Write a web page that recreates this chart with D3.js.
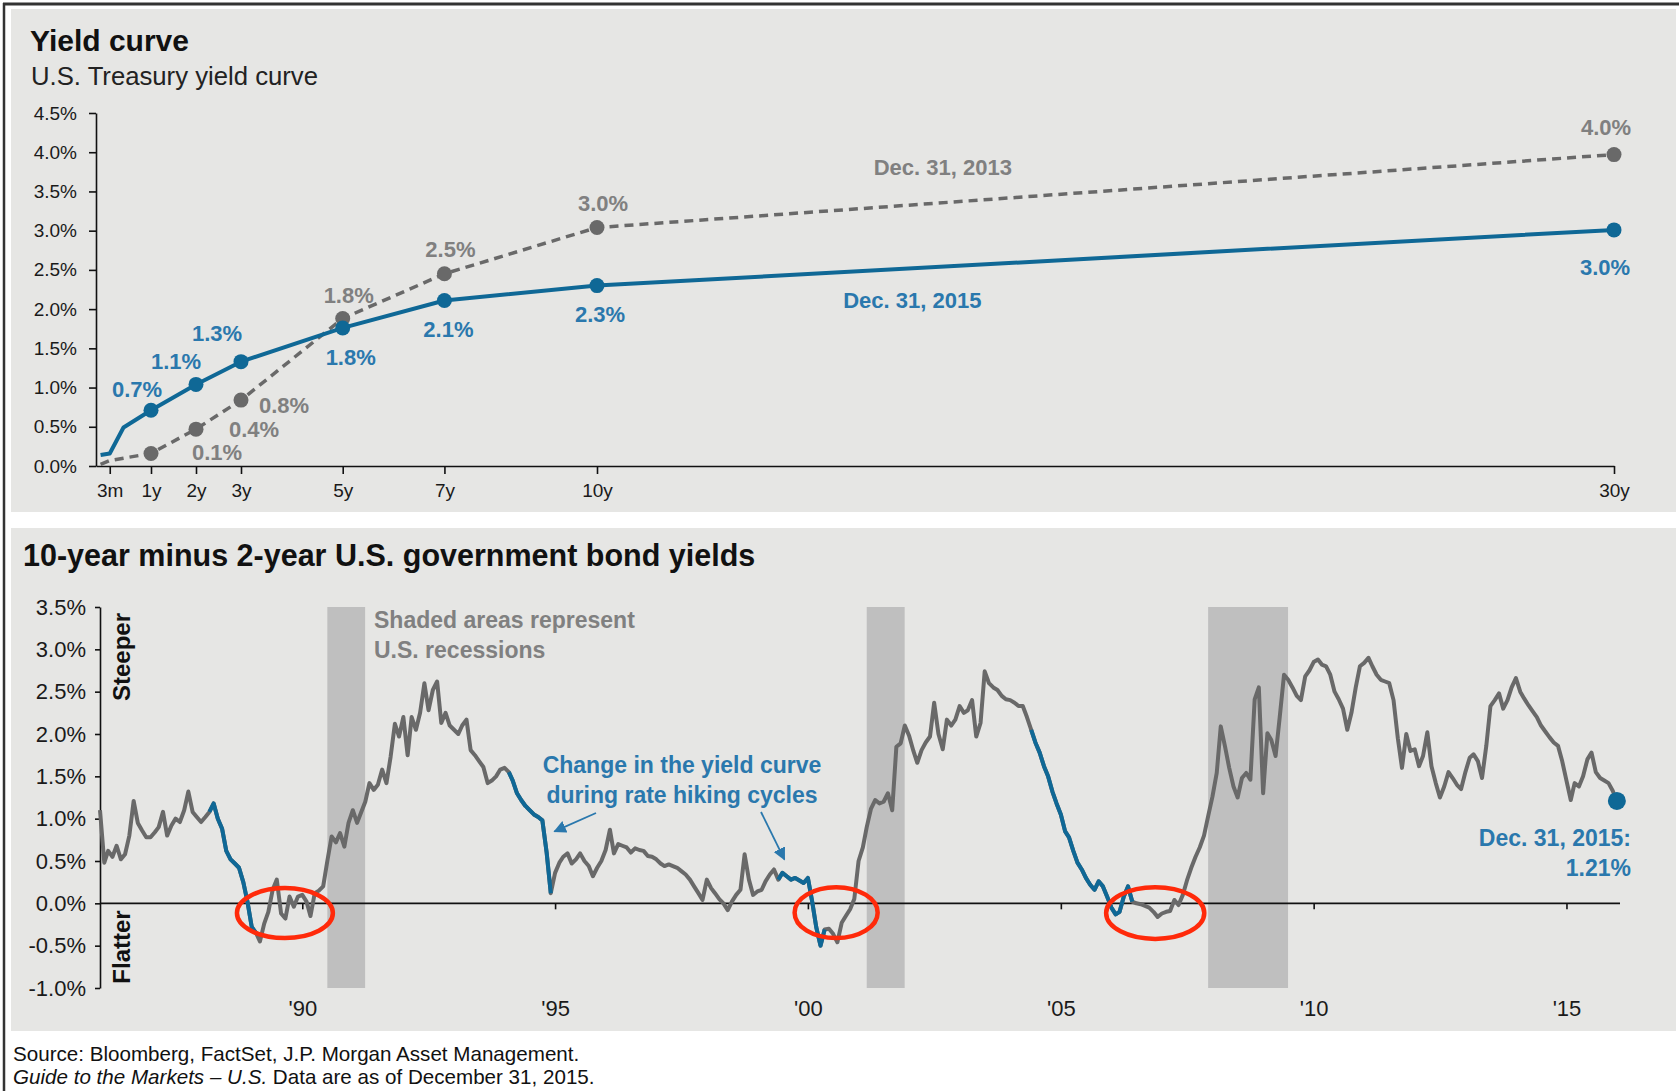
<!DOCTYPE html>
<html lang="en">
<head>
  <meta charset="UTF-8">
  <title>Yield curve</title>
  <script src="https://d3js.org/d3.v7.min.js"></script>
  <style>
    body { margin: 0; background: #fff; }
    svg { display: block; font-family: "Liberation Sans", Arial, sans-serif; }
  </style>
</head>
<body>
  <script>
    // ---------- Top chart: U.S. Treasury yield curve ----------
    const tenors = [1 / 12, 0.25, 0.5, 1, 2, 3, 5, 7, 10, 30];
    const curve2015 = [0.14, 0.16, 0.49, 0.71, 1.04, 1.33, 1.76, 2.11, 2.30, 3.01];
    const curve2013 = [0.02, 0.07, 0.10, 0.16, 0.47, 0.84, 1.88, 2.45, 3.04, 3.97];
    const markerTenors = [1, 2, 3, 5, 7, 10, 30];
    const labels2015 = ["0.7%", "1.1%", "1.3%", "1.8%", "2.1%", "2.3%", "3.0%"];
    const labels2013 = ["0.1%", "0.4%", "0.8%", "1.8%", "2.5%", "3.0%", "4.0%"];
    const tenorTicks = [0.25, 1, 2, 3, 5, 7, 10, 30];
    const tenorTickLabels = ["3m", "1y", "2y", "3y", "5y", "7y", "10y", "30y"];
    const curveYTicks = [0, 0.5, 1, 1.5, 2, 2.5, 3, 3.5, 4, 4.5];

    // ---------- Bottom chart: 10y minus 2y spread (monthly, from Jan 1986) ----------
    const spreadStart = "1986-01-01";
    const spread = [
      1.10, 0.48, 0.62, 0.55, 0.68, 0.52, 0.58, 0.80, 1.21, 0.95, 0.86, 0.78,   // 1986
      0.78, 0.84, 0.90, 1.08, 0.80, 0.92, 1.00, 0.96, 1.10, 1.32, 1.08, 1.02,   // 1987
      0.96, 1.02, 1.08, 1.18, 1.00, 0.88, 0.62, 0.52, 0.47, 0.42, 0.25, 0.02,   // 1988
      -0.28, -0.35, -0.45, -0.24, -0.10, 0.16, 0.28, -0.12, -0.18, 0.08, -0.04, 0.08, // 1989
      0.10, 0.02, -0.15, 0.12, 0.15, 0.20, 0.50, 0.79, 0.72, 0.83, 0.67, 0.95,  // 1990
      1.10, 0.95, 1.07, 1.20, 1.42, 1.34, 1.40, 1.58, 1.42, 1.73, 2.12, 1.97,   // 1991
      2.20, 1.75, 2.20, 2.05, 2.25, 2.60, 2.28, 2.52, 2.62, 2.13, 2.25, 2.10,   // 1992
      2.05, 2.00, 2.10, 2.17, 1.81, 1.75, 1.68, 1.61, 1.42, 1.45, 1.50, 1.58,   // 1993
      1.60, 1.55, 1.45, 1.30, 1.22, 1.15, 1.10, 1.05, 1.02, 0.98, 0.60, 0.12,   // 1994
      0.36, 0.48, 0.55, 0.59, 0.47, 0.52, 0.59, 0.50, 0.44, 0.32, 0.42, 0.50,   // 1995
      0.63, 0.87, 0.59, 0.70, 0.68, 0.66, 0.60, 0.65, 0.63, 0.62, 0.56, 0.55,   // 1996
      0.52, 0.47, 0.44, 0.46, 0.44, 0.42, 0.38, 0.34, 0.28, 0.20, 0.12, 0.04,   // 1997
      0.28, 0.18, 0.12, 0.05, 0.00, -0.08, 0.02, 0.10, 0.16, 0.58, 0.28, 0.10,  // 1998
      0.14, 0.16, 0.26, 0.34, 0.40, 0.28, 0.36, 0.32, 0.28, 0.30, 0.27, 0.24,   // 1999
      0.30, 0.02, -0.28, -0.50, -0.31, -0.30, -0.36, -0.46, -0.23, -0.15, -0.07, 0.05, // 2000
      0.50, 0.66, 0.90, 1.12, 1.22, 1.18, 1.20, 1.30, 1.10, 1.85, 1.89, 2.10,   // 2001
      1.98, 1.80, 1.66, 1.81, 1.90, 1.97, 2.37, 2.00, 1.82, 2.17, 2.10, 2.17,   // 2002
      2.33, 2.25, 2.28, 2.40, 1.97, 2.13, 2.74, 2.60, 2.55, 2.52, 2.45, 2.41,   // 2003
      2.40, 2.37, 2.33, 2.33, 2.20, 2.05, 1.90, 1.78, 1.62, 1.50, 1.32, 1.18,   // 2004
      1.05, 0.85, 0.78, 0.62, 0.48, 0.40, 0.30, 0.22, 0.16, 0.26, 0.20, 0.08,   // 2005
      -0.05, -0.13, -0.10, 0.08, 0.20, 0.02, 0.00, -0.01, -0.03, -0.05, -0.10, -0.16, // 2006
      -0.12, -0.10, -0.09, 0.04, -0.02, 0.10, 0.27, 0.42, 0.55, 0.66, 0.80, 1.03, // 2007
      1.26, 1.54, 2.09, 1.85, 1.60, 1.38, 1.25, 1.48, 1.54, 1.46, 2.41, 2.55,   // 2008
      1.30, 2.01, 1.93, 1.74, 2.20, 2.70, 2.64, 2.55, 2.45, 2.40, 2.68, 2.75,   // 2009
      2.85, 2.88, 2.82, 2.80, 2.70, 2.50, 2.41, 2.30, 2.05, 2.25, 2.55, 2.80,   // 2010
      2.84, 2.90, 2.80, 2.70, 2.64, 2.62, 2.60, 2.40, 1.95, 1.60, 2.00, 1.80,   // 2011
      1.82, 1.62, 1.74, 2.02, 1.62, 1.42, 1.25, 1.38, 1.55, 1.48, 1.40, 1.35,   // 2012
      1.55, 1.72, 1.76, 1.68, 1.48, 1.86, 2.33, 2.40, 2.48, 2.30, 2.40, 2.55,   // 2013
      2.66, 2.50, 2.42, 2.34, 2.27, 2.20, 2.10, 2.03, 1.96, 1.90, 1.86, 1.68,   // 2014
      1.45, 1.22, 1.42, 1.38, 1.50, 1.70, 1.78, 1.55, 1.48, 1.45, 1.42, 1.33    // 2015
    ];
    const latestDate = "2015-12-31";
    const latestValue = 1.21;
    const recessions = [["1990-07-01", "1991-03-31"], ["2001-03-01", "2001-11-30"], ["2007-12-01", "2009-06-30"]];
    const hikingCycles = [["1988-03-01", "1989-02-01"], ["1994-02-01", "1994-12-01"], ["1999-06-01", "2000-05-01"], ["2004-06-01", "2006-06-01"]];
    // inverted-curve circles: [from, to, high, low]
    const inversions = [["1988-09-16", "1990-08-10", 0.18, -0.41], ["1999-09-27", "2001-05-19", 0.19, -0.41], ["2005-11-24", "2007-11-03", 0.19, -0.42]];
    const spreadYTicks = [-1, -0.5, 0, 0.5, 1, 1.5, 2, 2.5, 3, 3.5];
    const yearTicks = [1990, 1995, 2000, 2005, 2010, 2015];
    const yearTickLabels = ["'90", "'95", "'00", "'05", "'10", "'15"];

    // ---------- styles ----------
    const W = 1679, H = 1091;
    const panelBg = "#e6e6e4";
    const blue = "#0f6896", blueText = "#2a78ad";
    const gray = "#696969", grayText = "#808080";
    const parse = d3.timeParse("%Y-%m-%d");
    const pct = d => (d < 0 ? "-" : "") + Math.abs(d).toFixed(1) + "%";

    const svg = d3.select("body").append("svg")
      .attr("width", W)
      .attr("height", H);

    // panels and frame
    svg.append("rect").attr("x", 11).attr("y", 9).attr("width", 1665).attr("height", 503).attr("fill", panelBg);
    svg.append("rect").attr("x", 11).attr("y", 528).attr("width", 1665).attr("height", 503).attr("fill", panelBg);
    svg.append("line").attr("x1", 3).attr("x2", W).attr("y1", 4).attr("y2", 4).attr("stroke", "#333").attr("stroke-width", 3);
    svg.append("line").attr("x1", 4).attr("x2", 4).attr("y1", 3).attr("y2", H).attr("stroke", "#333").attr("stroke-width", 2.5);

    // ================= top chart =================
    const xT = d3.scaleLinear().domain([0, 1, 3, 10, 30]).range([96, 151, 241, 597, 1614]);
    const yT = d3.scaleLinear().domain([0, 4.5]).range([466, 113]);

    svg.append("text").attr("x", 30).attr("y", 51)
      .attr("font-size", 30).attr("font-weight", "bold").attr("fill", "#111").text("Yield curve");
    svg.append("text").attr("x", 31).attr("y", 85)
      .attr("font-size", 25.7).attr("fill", "#222").text("U.S. Treasury yield curve");

    const yAxisT = svg.append("g").attr("transform", "translate(96,0)")
      .call(d3.axisLeft(yT).tickValues(curveYTicks).tickFormat(pct).tickSize(7).tickPadding(12).tickSizeOuter(0));
    const xAxisT = svg.append("g").attr("transform", "translate(0,466)")
      .call(d3.axisBottom(xT).tickValues(tenorTicks).tickFormat((d, i) => tenorTickLabels[i]).tickSize(8).tickPadding(10).tickSizeOuter(0));
    [yAxisT, xAxisT].forEach(g => {
      g.selectAll("path, line").attr("stroke", "#111").attr("stroke-width", 1.6);
      g.selectAll("text").attr("font-size", 19).attr("fill", "#1a1a1a").attr("font-family", "Liberation Sans, Arial, sans-serif");
    });

    const curveLine = d3.line().x(d => xT(d[0])).y(d => yT(d[1]));
    const pts2013 = tenors.map((t, i) => [t, curve2013[i]]);
    const pts2015 = tenors.map((t, i) => [t, curve2015[i]]);

    svg.append("path").datum(pts2013).attr("d", curveLine)
      .attr("fill", "none").attr("stroke", gray).attr("stroke-width", 3.5).attr("stroke-dasharray", "9,6");
    svg.append("g").selectAll("circle").data(pts2013.filter(d => markerTenors.includes(d[0])))
      .join("circle").attr("cx", d => xT(d[0])).attr("cy", d => yT(d[1])).attr("r", 7.5).attr("fill", gray);

    svg.append("path").datum(pts2015).attr("d", curveLine)
      .attr("fill", "none").attr("stroke", blue).attr("stroke-width", 4).attr("stroke-linejoin", "round");
    svg.append("g").selectAll("circle").data(pts2015.filter(d => markerTenors.includes(d[0])))
      .join("circle").attr("cx", d => xT(d[0])).attr("cy", d => yT(d[1])).attr("r", 7.5).attr("fill", blue);

    // value labels (offsets from each marker)
    const off2015 = [[-14, -21], [-20, -23], [-24, -29], [8, 29], [4, 29], [3, 29], [-9, 37]];
    const off2013 = [[66, -1], [58, 0], [43, 5], [6, -23], [6, -25], [6, -24], [-8, -27]];
    function valueLabels(curve, labels, offs, color) {
      svg.append("g").selectAll("text").data(markerTenors)
        .join("text")
        .attr("x", (t, i) => xT(t) + offs[i][0])
        .attr("y", (t, i) => yT(curve[tenors.indexOf(t)]) + offs[i][1])
        .attr("dy", "0.36em").attr("text-anchor", "middle")
        .attr("font-size", 22).attr("font-weight", "bold").attr("fill", color)
        .text((t, i) => labels[i]);
    }
    valueLabels(curve2015, labels2015, off2015, blueText);
    valueLabels(curve2013, labels2013, off2013, grayText);

    svg.append("text").attr("x", xT(16.8)).attr("y", yT(3.81)).attr("dy", "0.36em").attr("text-anchor", "middle")
      .attr("font-size", 22).attr("font-weight", "bold").attr("fill", grayText).text("Dec. 31, 2013");
    svg.append("text").attr("x", xT(16.2)).attr("y", yT(2.12)).attr("dy", "0.36em").attr("text-anchor", "middle")
      .attr("font-size", 22).attr("font-weight", "bold").attr("fill", blueText).text("Dec. 31, 2015");

    // ================= bottom chart =================
    const start = parse(spreadStart);
    const series = spread.map((v, i) => ({ date: d3.timeMonth.offset(start, i), value: v }));
    series.push({ date: parse(latestDate), value: latestValue });

    const xB = d3.scaleTime().domain([start, parse("2016-01-01")]).range([100, 1617]);
    const yB = d3.scaleLinear().domain([-1, 3.5]).range([988, 607]);

    svg.append("text").attr("x", 23).attr("y", 566)
      .attr("font-size", 30.5).attr("font-weight", "bold").attr("fill", "#111")
      .text("10-year minus 2-year U.S. government bond yields");

    svg.append("g").selectAll("rect").data(recessions).join("rect")
      .attr("x", d => xB(parse(d[0]))).attr("width", d => xB(parse(d[1])) - xB(parse(d[0])))
      .attr("y", yB(3.5)).attr("height", yB(-1) - yB(3.5)).attr("fill", "#bfbfbf");

    const yAxisB = svg.append("g").attr("transform", "translate(100,0)")
      .call(d3.axisLeft(yB).tickValues(spreadYTicks).tickFormat(pct).tickSize(5).tickPadding(9).tickSizeOuter(0));
    const xAxisB = svg.append("g").attr("transform", `translate(0,${yB(0)})`)
      .call(d3.axisBottom(xB).tickValues(yearTicks.map(y => new Date(y, 0, 1)))
        .tickFormat((d, i) => yearTickLabels[i]).tickSize(6).tickPadding(91).tickSizeOuter(0));
    [yAxisB, xAxisB].forEach(g => {
      g.selectAll("path, line").attr("stroke", "#111").attr("stroke-width", 1.6);
      g.selectAll("text").attr("font-size", 22).attr("fill", "#1a1a1a").attr("font-family", "Liberation Sans, Arial, sans-serif");
    });
    xAxisB.select(".domain").attr("d", `M100,0H1620`);

    const spreadLine = d3.line().x(d => xB(d.date)).y(d => yB(d.value));
    svg.append("path").datum(series).attr("d", spreadLine)
      .attr("fill", "none").attr("stroke", gray).attr("stroke-width", 4).attr("stroke-linejoin", "round");
    hikingCycles.forEach(([s, e]) => {
      const a = parse(s), b = parse(e);
      svg.append("path").datum(series.filter(d => d.date >= a && d.date <= b)).attr("d", spreadLine)
        .attr("fill", "none").attr("stroke", blue).attr("stroke-width", 4).attr("stroke-linejoin", "round");
    });
    svg.append("circle").attr("cx", xB(parse(latestDate))).attr("cy", yB(latestValue)).attr("r", 9).attr("fill", blue);

    svg.append("g").selectAll("ellipse").data(inversions).join("ellipse")
      .attr("cx", d => (xB(parse(d[0])) + xB(parse(d[1]))) / 2)
      .attr("cy", d => (yB(d[2]) + yB(d[3])) / 2)
      .attr("rx", d => (xB(parse(d[1])) - xB(parse(d[0]))) / 2)
      .attr("ry", d => (yB(d[3]) - yB(d[2])) / 2)
      .attr("fill", "none").attr("stroke", "#ff2a0a").attr("stroke-width", 4.5);

    // annotations
    svg.append("text").attr("x", 121).attr("y", 657).attr("transform", "rotate(-90,121,657)")
      .attr("text-anchor", "middle").attr("dy", "0.36em")
      .attr("font-size", 24).attr("font-weight", "bold").attr("fill", "#111").text("Steeper");
    svg.append("text").attr("x", 121).attr("y", 947).attr("transform", "rotate(-90,121,947)")
      .attr("text-anchor", "middle").attr("dy", "0.36em")
      .attr("font-size", 24).attr("font-weight", "bold").attr("fill", "#111").text("Flatter");

    const note = (lines, x, y, anchor, color) => {
      const t = svg.append("text").attr("text-anchor", anchor)
        .attr("font-size", 23).attr("font-weight", "bold").attr("fill", color);
      lines.forEach((s, i) => t.append("tspan").attr("x", x).attr("y", y + i * 30).attr("dy", "0.36em").text(s));
    };
    note(["Shaded areas represent", "U.S. recessions"], 374, 620, "start", grayText);
    note(["Change in the yield curve", "during rate hiking cycles"], 682, 765, "middle", blueText);
    note(["Dec. 31, 2015:", "1.21%"], 1631, 838, "end", blueText);

    svg.append("defs").append("marker").attr("id", "arrow")
      .attr("viewBox", "0 0 10 10").attr("refX", 9).attr("refY", 5)
      .attr("markerWidth", 7).attr("markerHeight", 7).attr("markerUnits", "strokeWidth")
      .attr("orient", "auto")
      .append("path").attr("d", "M0,0L10,5L0,10Z").attr("fill", blueText);
    const arrows = [[596, 813, "1994-12-28", 0.85], [761, 812, "1999-07-15", 0.52]];
    svg.append("g").selectAll("line").data(arrows).join("line")
      .attr("x1", d => d[0]).attr("y1", d => d[1])
      .attr("x2", d => xB(parse(d[2]))).attr("y2", d => yB(d[3]))
      .attr("stroke", blueText).attr("stroke-width", 1.8).attr("marker-end", "url(#arrow)");

    // footer
    svg.append("text").attr("x", 13).attr("y", 1061).attr("font-size", 20.6).attr("fill", "#111")
      .text("Source: Bloomberg, FactSet, J.P. Morgan Asset Management.");
    const foot = svg.append("text").attr("x", 13).attr("y", 1084).attr("font-size", 20.6).attr("fill", "#111");
    foot.append("tspan").attr("font-style", "italic").text("Guide to the Markets \u2013 U.S.");
    foot.append("tspan").text(" Data are as of December 31, 2015.");
  </script>
</body>
</html>
